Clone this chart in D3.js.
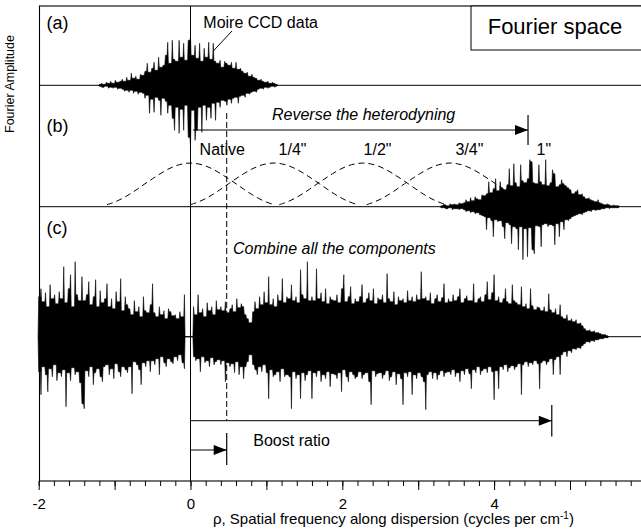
<!DOCTYPE html>
<html>
<head>
<meta charset="utf-8">
<script src="https://cdn.jsdelivr.net/npm/d3@7"></script>
<style>
  body { margin: 0; background: #fff; }
  svg { display: block; font-family: "Liberation Sans", Arial, sans-serif; }
</style>
</head>
<body>
<div id="chart"></div>
<script>
// --- data ---------------------------------------------------------------
// spectra sampled every STEP in rho; hi = upper excursion, lo = lower excursion (arb. units)
const STEP = 0.03;

// (a) Moire CCD data
const aStart = -1.2;
const aHi = [1, 2, 1, 3, 2, 4, 2, 5, 3, 4,
  6, 4, 8, 5, 12, 7, 9, 6, 11, 10,
  14, 22, 13, 17, 23, 15, 28, 18, 20, 30,
  43, 22, 45, 26, 24, 45, 28, 42, 25, 45,
  48, 30, 40, 27, 42, 24, 37, 28, 43, 26,
  42, 24, 22, 25, 18, 24, 22, 20, 23, 17,
  23, 16, 17, 14, 12, 13, 9, 11, 8, 7,
  5, 6, 4, 3, 4, 2, 3, 2, 1];
const aLo = [1, 2, 2, 1, 3, 2, 3, 2, 4, 3,
  4, 6, 5, 7, 5, 8, 6, 9, 7, 8,
  13, 10, 28, 14, 27, 12, 15, 30, 13, 16,
  28, 20, 33, 45, 22, 48, 24, 45, 20, 52,
  60, 25, 55, 45, 22, 47, 20, 35, 22, 33,
  18, 35, 17, 22, 15, 16, 20, 14, 18, 13,
  12, 18, 11, 10, 12, 8, 9, 7, 6, 7,
  4, 3, 4, 2, 3, 2, 1, 2, 1];

// (b) the 1" component after heterodyning
const bStart = 3.3;
const bHi = [1, 2, 2, 1, 3, 2, 3, 2, 4, 3,
  4, 7, 5, 9, 6, 10, 8, 7, 12, 11,
  13, 25, 14, 18, 28, 16, 25, 19, 17, 22,
  38, 21, 43, 24, 20, 42, 26, 24, 28, 47,
  45, 24, 23, 42, 25, 22, 47, 21, 24, 37,
  33, 20, 22, 27, 23, 21, 19, 17, 13, 15,
  17, 12, 13, 10, 8, 9, 7, 6, 5, 7,
  4, 3, 2, 3, 2, 1, 2, 1, 1];
const bLo = [1, 1, 2, 2, 1, 3, 2, 2, 3, 2,
  3, 5, 4, 6, 5, 7, 6, 8, 9, 10,
  23, 11, 14, 30, 13, 15, 14, 20, 32, 16,
  18, 37, 20, 22, 43, 20, 53, 22, 50, 21,
  43, 47, 19, 20, 40, 18, 17, 20, 18, 19,
  38, 17, 30, 15, 23, 13, 14, 12, 10, 9,
  8, 7, 8, 6, 5, 4, 5, 3, 4, 3,
  3, 2, 2, 1, 2, 1, 1, 1, 1];

// (c) all components combined
const cStart = -2.0;
const cHi = [40, 48, 35, 44, 30, 52, 38, 42, 33, 45,
  38, 70, 34, 48, 62, 30, 75, 42, 36, 60,
  36, 42, 55, 32, 40, 57, 30, 46, 34, 38,
  53, 30, 38, 28, 45, 35, 58, 26, 40, 32,
  28, 22, 36, 25, 30, 20, 40, 26, 24, 32,
  53, 24, 20, 30, 22, 26, 18, 28, 25, 21,
  22, 18, 25, 20, 42, 0, 0, 0, 30, 22,
  42, 24, 28, 20, 34, 26, 30, 22, 36, 27,
  30, 26, 35, 24, 28, 32, 25, 38, 29, 33,
  30, 22, 18, 14, 25, 35, 28, 40, 32, 45,
  34, 60, 32, 38, 30, 42, 36, 58, 34, 40,
  38, 52, 36, 40, 34, 67, 42, 38, 75, 36,
  40, 36, 68, 38, 44, 35, 48, 33, 40, 37,
  36, 42, 34, 48, 62, 35, 40, 50, 33, 38,
  35, 40, 52, 34, 38, 44, 36, 48, 33, 39,
  37, 42, 34, 63, 38, 35, 45, 32, 40, 36,
  38, 34, 46, 36, 40, 35, 42, 37, 65, 38,
  40, 36, 44, 33, 38, 42, 35, 39, 53, 34,
  38, 35, 42, 36, 40, 48, 34, 38, 41, 36,
  36, 53, 34, 38, 40, 35, 42, 55, 37, 44,
  62, 36, 40, 34, 38, 48, 35, 33, 52, 36,
  34, 32, 50, 30, 33, 28, 48, 31, 27, 30,
  29, 26, 30, 25, 43, 27, 24, 28, 22, 32,
  20, 18, 22, 16, 18, 15, 17, 13, 14, 11,
  8, 6, 7, 5, 6, 4, 4, 3, 2, 2,
  1];
const cLo = [35, 58, 30, 38, 55, 32, 40, 28, 44, 36,
  40, 33, 70, 36, 44, 31, 38, 35, 46, 67,
  72, 34, 40, 30, 48, 36, 32, 40, 45, 30,
  28, 38, 32, 42, 27, 35, 40, 30, 33, 36,
  30, 57, 25, 28, 33, 48, 26, 30, 24, 35,
  24, 28, 22, 38, 20, 26, 30, 22, 25, 27,
  20, 24, 18, 26, 32, 0, 0, 0, 20, 24,
  22, 35, 20, 26, 24, 30, 21, 28, 25, 23,
  28, 24, 45, 26, 30, 27, 36, 25, 38, 30,
  42, 30, 25, 18, 28, 33, 38, 30, 35, 28,
  36, 62, 33, 40, 38, 35, 45, 32, 40, 38,
  40, 72, 35, 42, 38, 62, 36, 44, 38, 34,
  62, 36, 40, 34, 45, 38, 42, 35, 50, 37,
  38, 42, 36, 55, 33, 40, 45, 35, 38, 42,
  40, 35, 42, 38, 36, 45, 68, 34, 40, 37,
  36, 42, 38, 34, 44, 40, 35, 48, 37, 42,
  68, 36, 40, 35, 58, 38, 42, 36, 40, 45,
  73, 38, 35, 42, 36, 43, 38, 34, 40, 36,
  35, 38, 33, 40, 36, 45, 34, 38, 32, 37,
  52, 33, 36, 30, 38, 34, 32, 36, 30, 35,
  63, 34, 52, 30, 33, 28, 35, 31, 29, 33,
  30, 27, 58, 28, 25, 30, 26, 28, 24, 27,
  52, 26, 24, 28, 25, 22, 38, 23, 20, 38,
  18, 15, 20, 14, 16, 12, 13, 11, 12, 9,
  7, 5, 6, 4, 5, 3, 3, 2, 2, 1,
  1];

// dashed passbands in (b): profile sampled every 0.1 in rho around each centre
const bandShape = [2, 4.5, 8, 12.5, 17.5, 23, 28, 33, 37.5, 41, 43, 44,
  43, 41, 37.5, 33, 28, 23, 17.5, 12.5, 8, 4.5, 2];
const bandCenters = [0, 1.1, 2.27, 3.42];
const bandLabels = ["Native", "1/4\"", "1/2\"", "3/4\"", "1\""];
const bandLabelRho = [0.12, 1.16, 2.28, 3.49, 4.56];

const tickLabels = [-2, 0, 2, 4];
const nativeCut = 0.477;   // dashed line / boost ratio
const reverseEnd = 4.447;
const boostEnd = 4.76;

// --- layout ------------------------------------------------------------
const W = 641, H = 531;
const frameL = 39.5, frameT = 6, axisY = 481;
const base = { a: 85.3, b: 206.7, c: 336.7 };

const svg = d3.select("#chart").append("svg")
  .attr("width", W).attr("height", H);

const x = d3.scaleLinear().domain([-2, 6]).range([38.7, 645.9]);
const yFor = b => d3.scaleLinear().domain([-60, 60]).range([b + 60, b - 60]);

// baselines
Object.values(base).forEach(b => {
  svg.append("line").attr("x1", frameL).attr("x2", W + 10)
    .attr("y1", b).attr("y2", b)
    .attr("stroke", "#000").attr("stroke-width", 1);
});

// passbands
const bandY = yFor(base.b);
const bandLine = d3.line().curve(d3.curveBasis)
  .x(d => x(d[0])).y(d => bandY(d[1]));
bandCenters.forEach(c => {
  const pts = bandShape.map((v, i) => [c + (i - 11) * 0.1, v]);
  svg.append("path").attr("d", bandLine(pts))
    .attr("fill", "none").attr("stroke", "#000").attr("stroke-width", 1)
    .attr("stroke-dasharray", "6,4");
});

// spectra: each sample is a narrow spike standing on the lower of its neighbours
function drawTrace(start, hi, lo, b) {
  const y = yFor(b);
  const n = hi.length, w = STEP * 0.28;
  const rows = [];
  for (let i = 0; i < n; i++) {
    const r = start + STEP * i;
    const hp = i > 0 ? hi[i - 1] : 0, hn = i < n - 1 ? hi[i + 1] : 0;
    const lp = i > 0 ? lo[i - 1] : 0, ln = i < n - 1 ? lo[i + 1] : 0;
    rows.push({ r: r - w, h: Math.min(hp, hi[i]), l: Math.min(lp, lo[i]) });
    rows.push({ r: r, h: hi[i], l: lo[i] });
    rows.push({ r: r + w, h: Math.min(hn, hi[i]), l: Math.min(ln, lo[i]) });
  }
  const area = d3.area()
    .x(d => x(d.r)).y0(d => y(-d.l)).y1(d => y(d.h));
  svg.append("path").attr("d", area(rows))
    .attr("fill", "#000").attr("stroke", "#000")
    .attr("stroke-width", 0.6).attr("stroke-linejoin", "round");
}
drawTrace(aStart, aHi, aLo, base.a);
drawTrace(bStart, bHi, bLo, base.b);
drawTrace(cStart, cHi, cLo, base.c);

// frame
svg.append("rect").attr("x", frameL).attr("y", frameT)
  .attr("width", W + 20 - frameL).attr("height", axisY - frameT)
  .attr("fill", "none").attr("stroke", "#000").attr("stroke-width", 1.1);

// rho = 0 line
svg.append("line").attr("x1", x(0)).attr("x2", x(0))
  .attr("y1", frameT).attr("y2", axisY)
  .attr("stroke", "#000").attr("stroke-width", 1);

// dashed native cutoff
svg.append("line").attr("x1", x(nativeCut)).attr("x2", x(nativeCut))
  .attr("y1", 113).attr("y2", 420.7)
  .attr("stroke", "#000").attr("stroke-width", 1)
  .attr("stroke-dasharray", "6,3");

// arrows
function arrow(r0, r1, y, barTop, barBot) {
  svg.append("line").attr("x1", x(r0)).attr("x2", x(r1))
    .attr("y1", y).attr("y2", y).attr("stroke", "#000").attr("stroke-width", 1);
  const xe = x(r1);
  svg.append("path")
    .attr("d", `M${xe - 13},${y - 5}L${xe},${y}L${xe - 13},${y + 5}Z`)
    .attr("fill", "#000");
  svg.append("line").attr("x1", xe).attr("x2", xe)
    .attr("y1", barTop).attr("y2", barBot)
    .attr("stroke", "#000").attr("stroke-width", 1.2);
}
arrow(0.033, reverseEnd, 130, 115, 145);
arrow(0, boostEnd, 420.7, 405, 436.5);
arrow(0, nativeCut, 450, 433, 465);

// x axis
const axisG = svg.append("g").attr("transform", `translate(0,${axisY})`);
axisG.append("g")
  .call(d3.axisBottom(x).tickValues(d3.range(-2, 6.01, 0.2)).tickSize(5).tickFormat(""))
  .call(g => g.select(".domain").remove());
axisG.append("g")
  .call(d3.axisBottom(x).tickValues(d3.range(-2, 7, 1)).tickSize(9).tickPadding(8)
    .tickFormat(d => tickLabels.includes(d) ? d : ""))
  .call(g => g.select(".domain").remove())
  .call(g => g.selectAll("text")
    .attr("font-size", 15).attr("font-family", "Liberation Sans, Arial, sans-serif")
    .attr("fill", "#000"));
axisG.selectAll(".tick line").attr("stroke", "#000").attr("stroke-width", 1);

const title = svg.append("text").attr("x", 213).attr("y", 524)
  .attr("font-size", 15).attr("fill", "#000");
title.append("tspan").text("\u03c1, Spatial frequency along dispersion (cycles per cm");
title.append("tspan").attr("font-size", 10).attr("dy", -5).text("-1");
title.append("tspan").attr("dy", 5).text(")");

svg.append("text").attr("transform", "translate(14,84) rotate(-90)")
  .attr("text-anchor", "middle").attr("font-size", 12.5).text("Fourier Amplitude");

// panel tags
[["(a)", 28.5], ["(b)", 132], ["(c)", 234]].forEach(([t, yy]) => {
  svg.append("text").attr("x", 46.5).attr("y", yy).attr("font-size", 18).text(t);
});

// annotations
svg.append("text").attr("x", 203.3).attr("y", 28.3).attr("font-size", 16)
  .text("Moire CCD data");
svg.append("line").attr("x1", 213.3).attr("y1", 51).attr("x2", 232).attr("y2", 31)
  .attr("stroke", "#000").attr("stroke-width", 1);

svg.append("text").attr("x", 272).attr("y", 120).attr("font-size", 16)
  .attr("font-style", "italic").text("Reverse the heterodyning");

bandLabels.forEach((t, i) => {
  svg.append("text").attr("x", x(bandLabelRho[i])).attr("y", 155)
    .attr("font-size", 16).text(t);
});

svg.append("text").attr("x", 233).attr("y", 254).attr("font-size", 16)
  .attr("font-style", "italic").text("Combine all the components");

svg.append("text").attr("x", 253.3).attr("y", 445.7).attr("font-size", 16)
  .text("Boost ratio");

svg.append("rect").attr("x", 471).attr("y", frameT)
  .attr("width", 200).attr("height", 44)
  .attr("fill", "#fff").attr("stroke", "#000").attr("stroke-width", 1);
svg.append("text").attr("x", 487.7).attr("y", 34.3).attr("font-size", 22)
  .text("Fourier space");
</script>
</body>
</html>
